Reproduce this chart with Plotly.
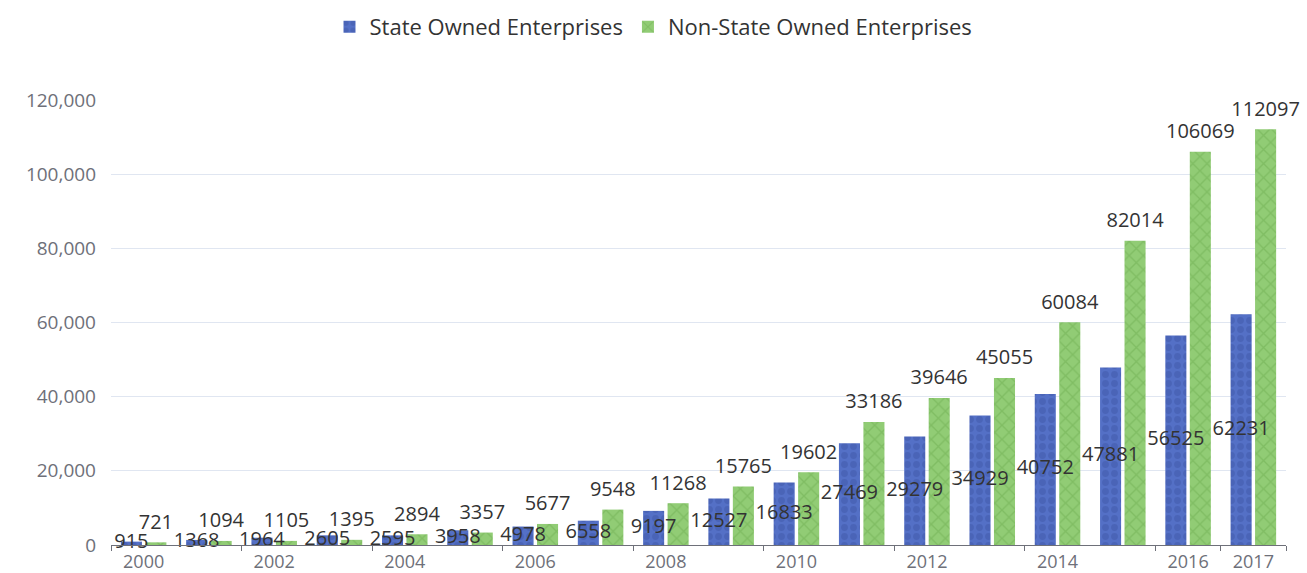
import plotly.graph_objects as go

years = [str(y) for y in range(2000, 2018)]
soe = [915, 1368, 1964, 2605, 2595, 3958, 4978, 6558, 9197, 12527, 16833, 27469,
       29279, 34929, 40752, 47881, 56525, 62231]
non_soe = [721, 1094, 1105, 1395, 2894, 3357, 5677, 9548, 11268, 15765, 19602, 33186,
           39646, 45055, 60084, 82014, 106069, 112097]
x_labels = ["2000", "2002", "2004", "2006", "2008", "2010", "2012", "2014", "2016", "2017"]
y_ticks = [0, 20000, 40000, 60000, 80000, 100000, 120000]

FONT = "Open Sans"
LABEL_FONT = dict(color="#333333", size=20, family=FONT)

fig = go.Figure()
fig.add_trace(go.Bar(
    x=years, y=soe, name="State Owned Enterprises", offsetgroup="soe",
    marker=dict(color="#5470c6", line=dict(width=0),
                pattern=dict(shape=".", fgcolor="#3f58a8", size=9, solidity=0.45)),
))
fig.add_trace(go.Bar(
    x=years, y=non_soe, name="Non-State Owned Enterprises", offsetgroup="non",
    marker=dict(color="#91cc75", line=dict(width=0),
                pattern=dict(shape="x", fgcolor="#6fae52", size=10, solidity=0.25)),
))
# value labels drawn above the bars
fig.add_trace(go.Scatter(
    x=years, y=[v / 2 for v in soe], text=[str(v) for v in soe], mode="text",
    textposition="middle center", textfont=LABEL_FONT, offsetgroup="soe",
    showlegend=False, hoverinfo="skip", cliponaxis=False,
))
fig.add_trace(go.Scatter(
    x=years, y=non_soe, text=[str(v) for v in non_soe], mode="markers+text",
    marker=dict(size=12, opacity=0),
    textposition="top center", textfont=LABEL_FONT, offsetgroup="non",
    showlegend=False, hoverinfo="skip", cliponaxis=False,
))

fig.update_layout(
    width=1307, height=573,
    margin=dict(l=111, r=21, t=100, b=28, autoexpand=False),
    paper_bgcolor="white", plot_bgcolor="white",
    barmode="group", bargap=0.25, bargroupgap=0.14,
    scattermode="group", scattergap=0.25,
    font=dict(family=FONT, color="#333333", size=18),
    legend=dict(orientation="h", x=0.4617, xanchor="center", yref="container",
                y=0.953, yanchor="middle", font=dict(size=22, color="#333333"),
                itemwidth=30),
    xaxis=dict(type="category", tickmode="array", tickvals=x_labels, ticktext=x_labels,
               tickson="boundaries", ticks="outside", ticklen=5, tickcolor="#6e7079",
               showline=True, linecolor="#6e7079", linewidth=1,
               tickfont=dict(size=18, color="#6e7079"), showgrid=False),
    yaxis=dict(range=[0, 120000], tickvals=y_ticks, tickformat=",d",
               showgrid=True, gridcolor="#e0e6f1", zeroline=False,
               tickfont=dict(size=19, color="#6e7079"), ticklabelstandoff=14),
)

fig.write_html("out.html", config={"displayModeBar": False},
               post_script="document.body.style.margin='0';document.body.style.overflow='hidden';")
